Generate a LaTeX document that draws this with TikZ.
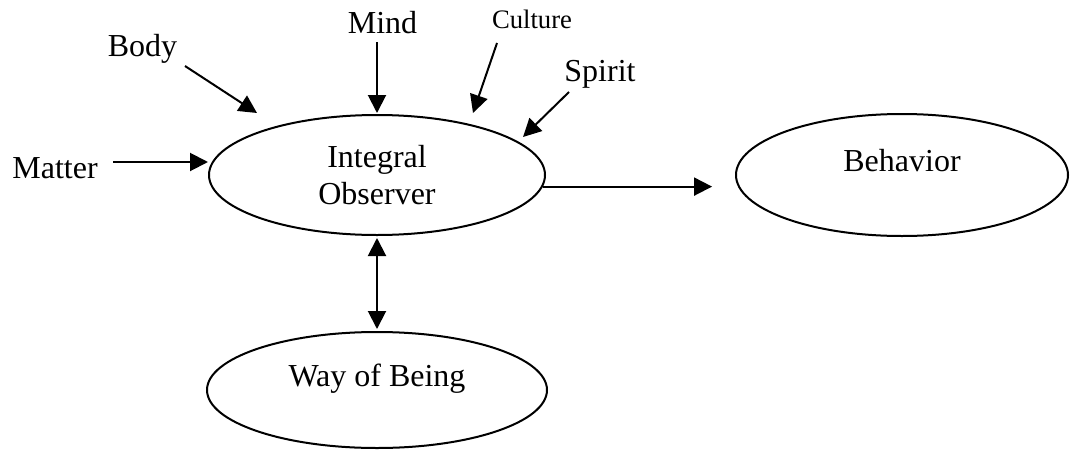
\documentclass[tikz,border=0pt]{standalone}
\usepackage{fontspec}
\setmainfont{Liberation Serif}
\usetikzlibrary{arrows.meta,shapes.geometric}

\tikzset{
	oval/.style={draw=black, line width=0.75pt, ellipse, inner sep=0pt, font=\fontsize{12}{13.9}\selectfont},
	word/.style={inner sep=0pt, anchor=base, font=\fontsize{12}{13.9}\selectfont},
	arr/.style={line width=0.75pt, -{Triangle[length=6.75pt,width=6.75pt]}},
	dblarr/.style={line width=0.75pt, {Triangle[length=6.75pt,width=6.75pt]}-{Triangle[length=6.75pt,width=6.75pt]}}
}

\begin{document}
\begin{tikzpicture}[x=0.375pt,y=-0.375pt]
	
	%Background
	\useasboundingbox[fill=white] (0,0) rectangle (1070,450);
	
	%Ellipses
	\node[oval, minimum width=126pt, minimum height=45pt, align=center] (obs) at (377,175) {Integral\\Observer};
	\node[oval, minimum width=124.5pt, minimum height=45.75pt, text height=8.25pt, text depth=11pt] (beh) at (902,175) {Behavior};
	\node[oval, minimum width=127.5pt, minimum height=43.5pt, text height=8.25pt, text depth=11pt] (way) at (377,390) {Way of Being};
	
	%Inputs
	\node[word] (body) at (142.5,57) {Body};
	\node[word] (mind) at (382.5,33) {Mind};
	\node[word, font=\fontsize{10}{12}\selectfont] (culture) at (532,28) {Culture};
	\node[word] (spirit) at (600,81) {Spirit};
	\node[word] (matter) at (55,178) {Matter};
	
	%Arrow ends
	\coordinate (bodyTail) at (185,66);
	\coordinate (bodyTip) at (257,113);
	\coordinate (mindTail) at (377,42);
	\coordinate (mindTip) at (377,113);
	\coordinate (cultureTail) at (497,43);
	\coordinate (cultureTip) at (473,113);
	\coordinate (spiritTail) at (569,92);
	\coordinate (spiritTip) at (523,137);
	\coordinate (matterTail) at (113,162);
	\coordinate (matterTip) at (208,162);
	
	%Arrows
	\draw[arr] (bodyTail) -- (bodyTip);
	\draw[arr] (mindTail) -- (mindTip);
	\draw[arr] (cultureTail) -- (cultureTip);
	\draw[arr] (spiritTail) -- (spiritTip);
	\draw[arr] (matterTail) -- (matterTip);
	\draw[arr, shorten >=8.6pt] (obs.-4) -- (obs.-4 -| beh.west);
	\draw[dblarr, shorten <=0.75pt, shorten >=0.75pt] (obs) -- (way);
	
\end{tikzpicture}
\end{document}
